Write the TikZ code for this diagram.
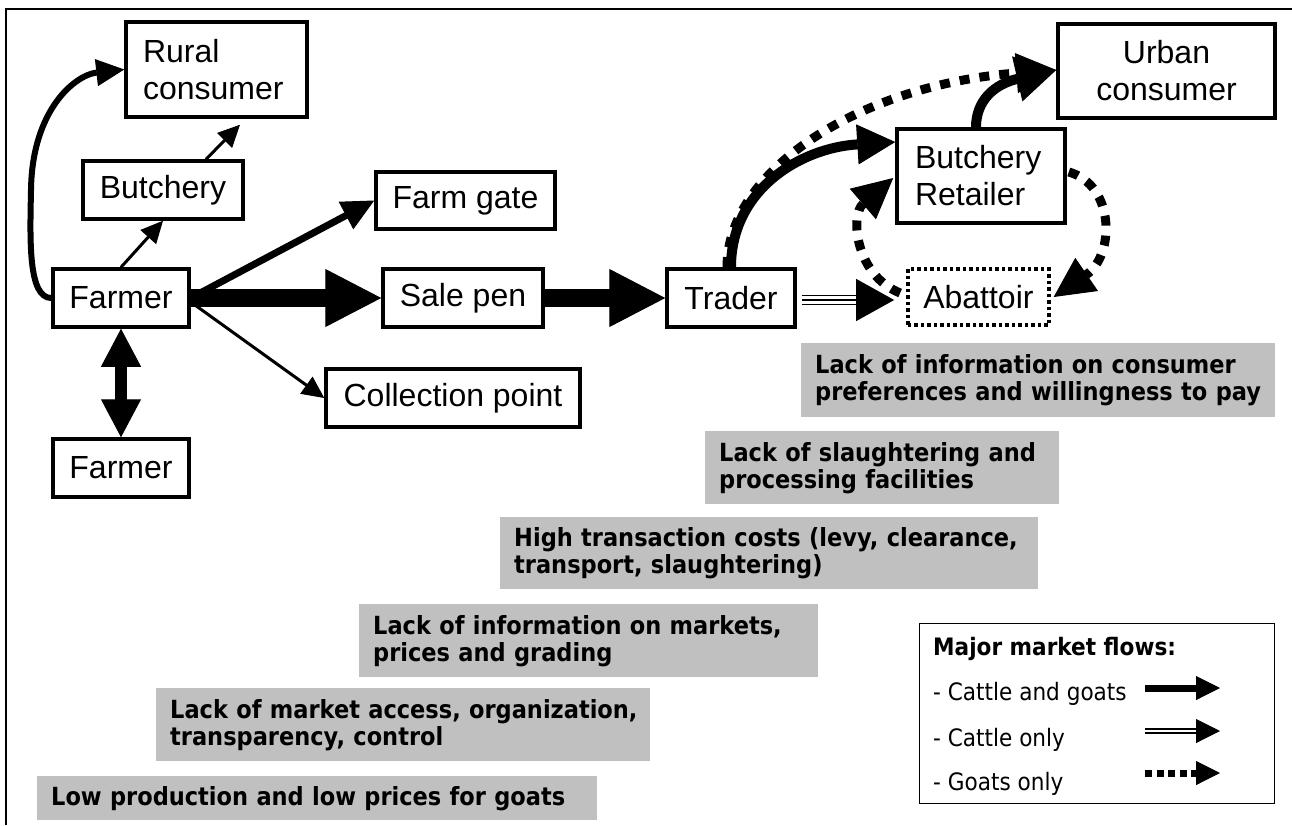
\documentclass[tikz,border=0pt]{standalone}
\usepackage{fontspec}
\setmainfont{Liberation Sans}
\newfontfamily\gbf[FakeStretch=0.9]{DejaVu Sans}
\usetikzlibrary{arrows.meta,calc}
\definecolor{silver}{RGB}{192,192,192}
\begin{document}
\begin{tikzpicture}[x=1pt,y=-1pt,
 box/.style={draw,line width=3.5pt,inner sep=0pt,font=\fontsize{32}{37}\selectfont},
 gbox/.style={fill=silver,anchor=north west,inner xsep=14pt,inner ysep=0pt,align=left,font=\gbf\bfseries\fontsize{25}{27}\selectfont},
 ltext/.style={anchor=base west,inner sep=0pt,font=\gbf\fontsize{24}{28}\selectfont},
 fXL/.style={line width=18pt,-{Triangle[length=56pt,width=58pt,line width=1pt]}},
 fL/.style={line width=10pt,-{Triangle[length=38pt,width=40pt,line width=1pt]}},
 fM/.style={line width=7pt,-{Triangle[length=32pt,width=31pt,line width=1pt]}},
 fS/.style={line width=3pt,-{Triangle[length=22pt,width=21pt,line width=1pt]}},
 dots/.style={line width=9pt,dash pattern=on 10pt off 10pt,-{Triangle[length=40pt,width=40pt,line width=1pt]}},
]
\useasboundingbox (0,0) rectangle (1292,825);
\draw[line width=1.3pt] (6,825) -- (6,9) -- (1292,9);

% nodes
\node[box,minimum width=181pt,minimum height=95pt,text width=147pt,align=left] (rural) at (216.5,69.5) {\mbox{Rural}\\\mbox{consumer}};
\node[box,minimum width=160pt,minimum height=58pt] (butch) at (163,190) {Butchery};
\node[box,minimum width=136pt,minimum height=58pt] (farmerA) at (121,298) {Farmer};
\node[box,minimum width=136pt,minimum height=58pt] (farmerB) at (121,468) {Farmer};
\node[box,minimum width=179pt,minimum height=57pt] (gate) at (465.5,200.5) {Farm gate};
\node[box,minimum width=160pt,minimum height=58pt] (pen) at (463,298) {Sale pen};
\node[box,minimum width=254pt,minimum height=58pt] (coll) at (453,398) {Collection point};
\node[box,minimum width=128pt,minimum height=58pt] (trader) at (731,298) {Trader};
\node[box,dash pattern=on 3.5pt off 3pt,minimum width=141pt,minimum height=56pt] (abat) at (978.4,297) {Abattoir};
\node[box,minimum width=168pt,minimum height=94pt,text width=132pt,align=left] (retail) at (981,176) {\mbox{Butchery}\\\mbox{Retailer}};
\node[box,minimum width=217pt,minimum height=94pt,align=center] (urban) at (1166.5,71) {Urban\\consumer};

% gray constraint boxes
\node[gbox,text width=446pt,minimum height=74pt] (g1) at (801,343) {\mbox{Lack of information on consumer}\\\mbox{preferences and willingness to pay}};
\node[gbox,text width=326pt,minimum height=73pt] (g2) at (705,431) {\mbox{Lack of slaughtering and}\\\mbox{processing facilities}};
\node[gbox,text width=510pt,minimum height=72pt] (g3) at (500,517) {\mbox{High transaction costs (levy, clearance,}\\\mbox{transport, slaughtering)}};
\node[gbox,text width=431pt,minimum height=73pt] (g4) at (359,604) {\mbox{Lack of information on markets,}\\\mbox{prices and grading}};
\node[gbox,text width=466pt,minimum height=73pt] (g5) at (156,688) {\mbox{Lack of market access, organization,}\\\mbox{transparency, control}};
\node[gbox,text width=532pt,minimum height=44pt] (g6) at (37,776) {\mbox{Low production and low prices for goats}};

% legend
\node[draw,line width=1.3pt,minimum width=355pt,minimum height=180pt,inner sep=0pt,anchor=north west] (legend) at (919,623) {};
\node[ltext,font=\gbf\bfseries\fontsize{24}{28}\selectfont] (lt0) at (933,655) {Major market flows:};
\node[ltext] (lt1) at (933,700) {- Cattle and goats};
\node[ltext] (lt2) at (933,746) {- Cattle only};
\node[ltext] (lt3) at (933,790) {- Goats only};
\coordinate (a1) at (1145,688); \coordinate (b1) at (1220,688);
\coordinate (a2) at (1145,731); \coordinate (b2) at (1220,731);
\coordinate (a3) at (1145,773); \coordinate (b3) at (1220,773);
\draw[line width=7pt,-{Triangle[length=24pt,width=24pt,line width=1pt]}] (a1) -- (b1);
\draw[line width=1.6pt] ($(a2)+(0,-2.2)$) -- ($(b2)+(-23,-2.2)$);
\draw[line width=1.6pt] ($(a2)+(0,2.2)$) -- ($(b2)+(-23,2.2)$);
\draw[-{Triangle[length=24pt,width=24pt,line width=1pt]}] ($(b2)+(-24,0)$) -- (b2);
\draw[line width=7pt,dash pattern=on 7pt off 4.5pt,-{Triangle[length=24pt,width=24pt,line width=1pt]}] (a3) -- (b3);

% flows
\draw[fXL] (farmerA.east) -- (pen.west);
\draw[fXL] (pen.east) -- (trader.west);
\draw[fM] (farmerA.east) -- (gate.west);
\draw[fS] ($(farmerA.east)+(0,4)$) -- (coll.west);
\draw[line width=12pt,{Triangle[length=38pt,width=40pt,line width=1pt]}-{Triangle[length=38pt,width=40pt,line width=1pt]}] (farmerA.south) -- (farmerB.north);
\draw[fS] (farmerA.north) -- (butch.south);
\draw[fS] ($(butch.north)+(43,0)$) -- ($(rural.south)+(23.5,6)$);
\draw[line width=6pt,-{Triangle[length=28pt,width=27pt,line width=1pt]}] (farmerA.west) .. controls (28,298) and (30,240) .. (31,190) .. controls (32,110) and (75,75) .. (rural.west);

\draw[fL] (trader.north) .. controls (731,190) and (800,148) .. ($(retail.west)+(0,-34)$);
\draw[dots] ($(trader.north)+(-4,0)$) .. controls (727,170) and (860,85) .. ($(urban.west)+(0,-1)$);
\draw[line width=10pt,-{Triangle[length=40pt,width=46pt,line width=1pt]}] ($(retail.north)+(-5,0)$) .. controls (976,100) and (995,84) .. ($(urban.west)+(0,-1)$);
\draw[dots] ($(retail.east)+(2,-4)$) .. controls (1115,185) and (1115,255) .. ($(abat.east)+(3,0)$);
\draw[dots] ($(abat.west)+(-6,-4)$) .. controls (855,275) and (850,215) .. ($(retail.west)+(-2,2)$);

\draw[line width=1.8pt,-{Triangle[length=38pt,width=42pt,line width=1pt]}] ($(trader.east)+(5,2)$) -- ($(abat.west)+(-12,3)$);
\draw[line width=1.8pt] ($(trader.east)+(5,-2.5)$) -- ($(abat.west)+(-49,-1.5)$);
\draw[line width=1.8pt] ($(trader.east)+(5,6.5)$) -- ($(abat.west)+(-49,7.5)$);
\end{tikzpicture}
\end{document}
